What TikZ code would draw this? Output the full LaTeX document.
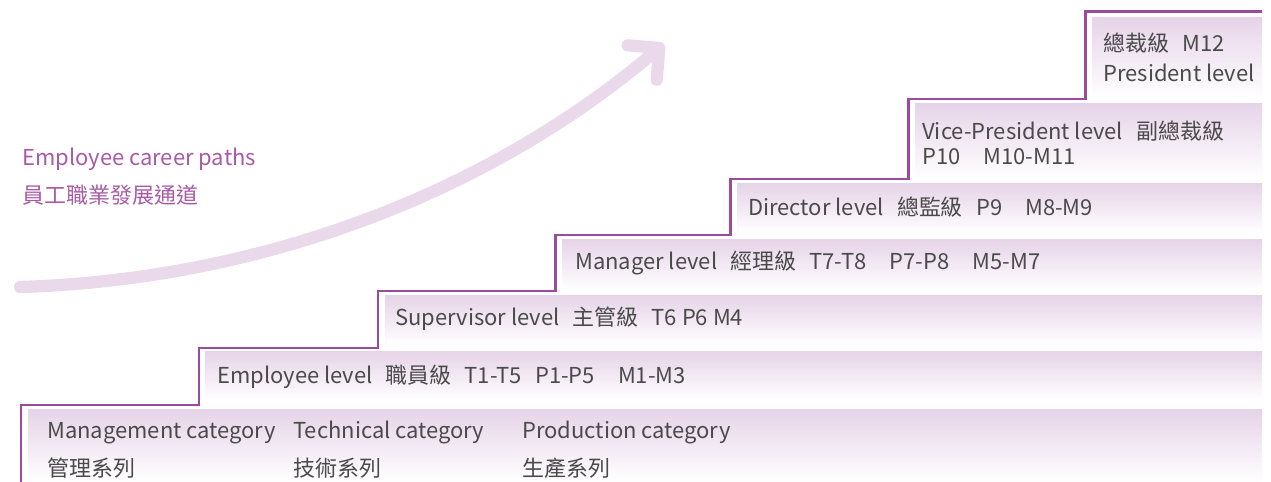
\documentclass[tikz,border=0pt]{standalone}
\usepackage{fontspec}
\setmainfont{Noto Sans CJK TC}
\usetikzlibrary{arrows.meta}
\definecolor{stair-purple}{HTML}{9B4A9D}
\definecolor{path-lilac}{HTML}{E9D9EA}
\definecolor{title-purple}{HTML}{A95AA6}
\definecolor{label-gray}{HTML}{4A4A4A}
\definecolor{box-top}{HTML}{E6D4E8}
\newcommand{\gapone}{\hspace*{0.6em}}
\newcommand{\gaptwo}{\hspace*{1.05em}}

\begin{document}
\begin{tikzpicture}[x=0.02cm, y=-0.02cm, font=\fontsize{12.5}{15}\selectfont,
  levelbox/.style={top color=box-top, bottom color=white, draw=none},
  lvltext/.style={text=label-gray, anchor=west, inner sep=0pt},
  titletext/.style={text=title-purple, anchor=west, inner sep=0pt},
  stair/.style={draw=stair-purple, line width=1.7pt},
  careerarrow/.style={draw=path-lilac, line width=7pt, line cap=round,
    -{Straight Barb[length=0.45cm, width=0.9cm, round]}}]
\useasboundingbox (0,0) rectangle (1271,482);

% level boxes, bottom to top
\path[levelbox] (28,410) rectangle (1262,482);
\path[levelbox] (205,352) rectangle (1262,400);
\path[levelbox] (385,296) rectangle (1262,345);
\path[levelbox] (562,240) rectangle (1262,290);
\path[levelbox] (737,184) rectangle (1262,233);
\path[levelbox] (915,104) rectangle (1262,178);
\path[levelbox] (1092,18) rectangle (1262,98);

% the stair line
\draw[stair] (21,482) -- (21,405) -- (199,405) -- (199,348) -- (378,348)
  -- (378,291) -- (555,291) -- (555,235) -- (730,235) -- (730,179)
  -- (908,179) -- (908,99) -- (1085,99) -- (1085,12) -- (1262,12);

% career path arrow
\coordinate (pathstart) at (20,287);
\coordinate (pathend) at (664,44);
\draw[careerarrow] (pathstart) .. controls (250,280) and (480,200) .. (pathend);

\node[titletext] (pathsen) at (22,159) {Employee career paths};
\node[titletext] (pathszh) at (22,195) {員工職業發展通道};

% categories
\node[lvltext] (mgmten) at (47,433) {Management category};
\node[lvltext] (mgmtzh) at (47,468) {管理系列};
\node[lvltext] (techen) at (293,433) {Technical category};
\node[lvltext] (techzh) at (293,468) {技術系列};
\node[lvltext] (proden) at (522,433) {Production category};
\node[lvltext] (prodzh) at (522,468) {生產系列};

% levels
\node[lvltext] (employee) at (217,377) {Employee level\gapone 職員級\gapone T1-T5\gapone P1-P5\gaptwo M1-M3};
\node[lvltext] (supervisor) at (395,319) {Supervisor level\gapone 主管級\gapone T6 P6 M4};
\node[lvltext] (manager) at (575,263) {Manager level\gapone 經理級\gapone T7-T8\gaptwo P7-P8\gaptwo M5-M7};
\node[lvltext] (director) at (748,207) {Director level\gapone 總監級\gapone P9\gaptwo M8-M9};
\node[lvltext] (vicepres) at (922,131) {Vice-President level\gapone 副總裁級};
\node[lvltext] (vicecode) at (922,157) {P10\gaptwo M10-M11};
\node[lvltext] (presidentzh) at (1103,43) {總裁級\gapone M12};
\node[lvltext] (presidenten) at (1103,73) {President level};
\end{tikzpicture}
\end{document}
